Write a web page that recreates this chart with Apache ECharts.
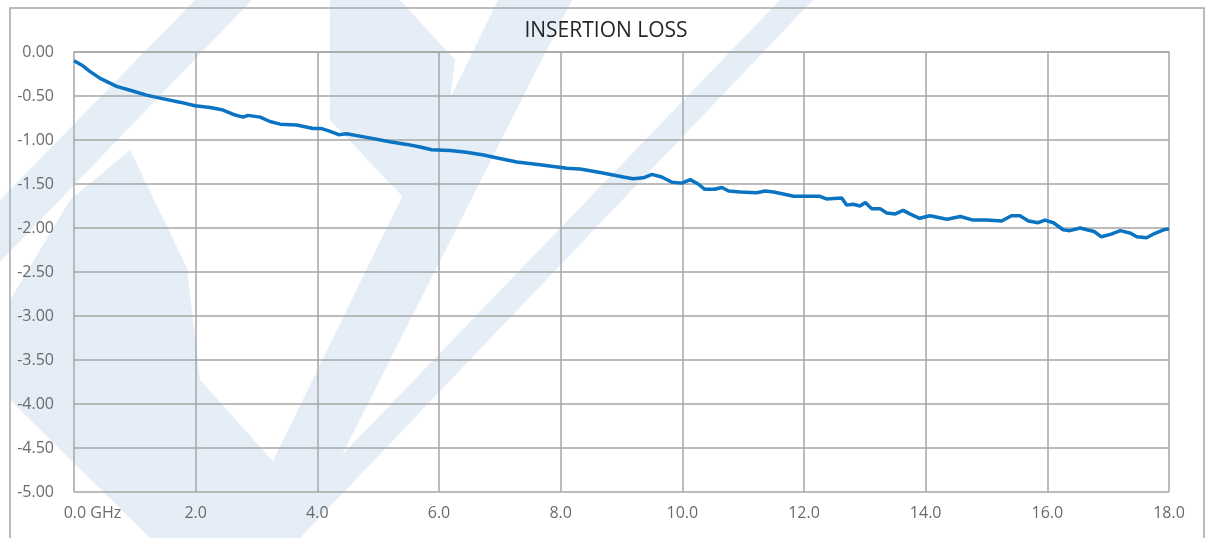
<!DOCTYPE html>
<html>
<head>
<meta charset="utf-8">
<script src="https://cdn.jsdelivr.net/npm/echarts@6/dist/echarts.min.js"></script>
<style>
  html, body { margin: 0; padding: 0; background: #fff; }
  #chart { width: 1212px; height: 538px; }
</style>
</head>
<body>
<div id="chart"></div>
<script>
// frequency in GHz
const freqGHz = [
  0.00, 0.13, 0.26, 0.43, 0.70, 0.95, 1.19, 1.45, 1.74, 1.99,
  2.24, 2.45, 2.62, 2.78, 2.86, 3.06, 3.22, 3.39, 3.66, 3.93,
  4.07, 4.20, 4.35, 4.48, 4.81, 5.19, 5.47, 5.69, 5.88, 6.18,
  6.45, 6.73, 7.00, 7.28, 7.66, 8.10, 8.32, 8.65, 9.03, 9.19,
  9.36, 9.50, 9.66, 9.83, 9.99, 10.13, 10.26, 10.37, 10.53, 10.65,
  10.76, 10.95, 11.22, 11.36, 11.50, 11.64, 11.83, 12.05, 12.26, 12.37,
  12.62, 12.70, 12.81, 12.92, 13.01, 13.11, 13.25, 13.36, 13.50, 13.63,
  13.74, 13.90, 14.07, 14.35, 14.57, 14.78, 15.00, 15.25, 15.41, 15.55,
  15.69, 15.85, 15.96, 16.10, 16.26, 16.37, 16.54, 16.65, 16.77, 16.89,
  17.05, 17.20, 17.37, 17.47, 17.63, 17.77, 17.91, 18.00
];
// insertion loss in dB
const lossDb = [
  -0.10, -0.15, -0.22, -0.30, -0.39, -0.44, -0.49, -0.53, -0.57, -0.61,
  -0.63, -0.66, -0.71, -0.74, -0.72, -0.74, -0.79, -0.82, -0.83, -0.87,
  -0.87, -0.90, -0.94, -0.93, -0.97, -1.02, -1.05, -1.08, -1.11, -1.12,
  -1.14, -1.17, -1.21, -1.25, -1.28, -1.32, -1.33, -1.37, -1.42, -1.44,
  -1.43, -1.39, -1.42, -1.48, -1.49, -1.45, -1.50, -1.56, -1.56, -1.54,
  -1.58, -1.59, -1.60, -1.58, -1.59, -1.61, -1.64, -1.64, -1.64, -1.67,
  -1.66, -1.74, -1.73, -1.75, -1.71, -1.78, -1.78, -1.83, -1.84, -1.80,
  -1.84, -1.89, -1.86, -1.90, -1.87, -1.91, -1.91, -1.92, -1.86, -1.86,
  -1.92, -1.94, -1.91, -1.94, -2.02, -2.03, -2.00, -2.02, -2.04, -2.10,
  -2.07, -2.03, -2.06, -2.10, -2.11, -2.06, -2.02, -2.01
];

const chartTitle = "INSERTION LOSS";
const xUnit = "GHz";

const chart = echarts.init(document.getElementById("chart"));

// faint logo watermark behind the plot (rough shapes)
const wm = "#e5eef7";
const watermark = [
  [[195, 0], [252, 0], [0, 262], [0, 200]],
  [[780, 0], [813, 0], [300, 538], [262, 538]],
  [[498, 0], [572, 0], [300, 538], [250, 538], [273, 461]],
  [[10, 300], [70, 200], [130, 150], [187, 268], [200, 380], [273, 461], [290, 538], [150, 538], [10, 400]],
  [[330, 0], [400, 0], [455, 60], [440, 180], [420, 215], [330, 120]]
].map(function (pts) {
  return { type: "polygon", z: -10, silent: true, shape: { points: pts }, style: { fill: wm } };
});

chart.setOption({
  animation: false,
  backgroundColor: "#fff",
  textStyle: { fontFamily: "Open Sans" },
  title: {
    text: chartTitle,
    left: "center",
    top: 16,
    textStyle: { fontSize: 21, fontWeight: "normal", color: "#262626", fontFamily: "Open Sans" }
  },
  graphic: watermark.concat([{
    type: "rect",
    z: -5,
    silent: true,
    shape: { x: 10, y: 8, width: 1194, height: 560 },
    style: { fill: null, stroke: "#a6a6a6", lineWidth: 1.5 }
  }]),
  grid: { left: 74, right: 43, top: 52, bottom: 46 },
  xAxis: {
    type: "value",
    min: 0,
    max: 18,
    interval: 2,
    axisLine: { show: true, lineStyle: { color: "#a6a6a6", width: 1.5 } },
    axisTick: { show: false },
    splitLine: { show: true, lineStyle: { color: "#a6a6a6", width: 1.5 } },
    axisLabel: {
      margin: 13,
      fontSize: 16,
      color: "#6b6b6b",
      formatter: function (v) {
        if (v === 0) return "{first|0.0 " + xUnit + "}";
        return v.toFixed(1);
      },
      rich: { first: { fontSize: 16, color: "#6b6b6b", padding: [0, 0, 0, 37] } }
    }
  },
  yAxis: {
    type: "value",
    min: -5,
    max: 0,
    interval: 0.5,
    axisLine: { show: false },
    axisTick: { show: false },
    splitLine: { show: true, lineStyle: { color: "#a6a6a6", width: 1.5 } },
    axisLabel: {
      margin: 20,
      fontSize: 16,
      color: "#6b6b6b",
      formatter: function (v) { return v.toFixed(2); }
    }
  },
  series: [{
    type: "line",
    data: freqGHz.map(function (f, i) { return [f, lossDb[i]]; }),
    showSymbol: false,
    smooth: false,
    lineStyle: { color: "#0a74c2", width: 3.5 }
  }]
});
</script>
</body>
</html>
